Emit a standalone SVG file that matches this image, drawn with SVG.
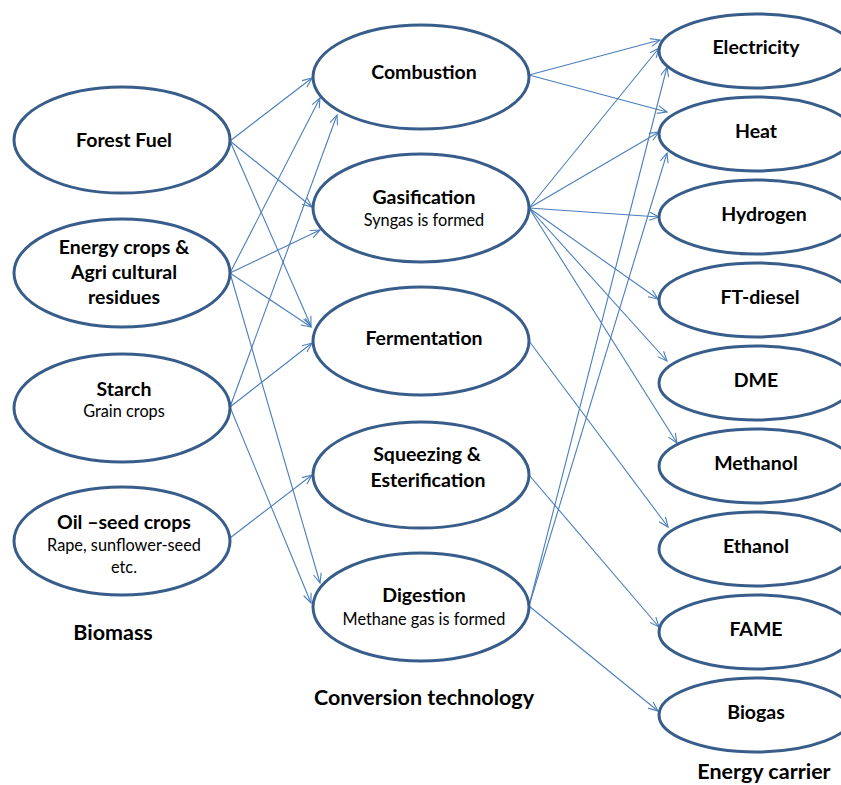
<svg xmlns="http://www.w3.org/2000/svg" width="841" height="785" viewBox="0 0 841 785">
<defs>
<style>
.n ellipse{fill:#fff;stroke:#385d8a;stroke-width:3}
.b{font-family:Lato,"Open Sans","Liberation Sans",sans-serif;font-weight:bold;font-size:19.5px;fill:#000;text-anchor:middle}
.r{font-family:Lato,"Open Sans","Liberation Sans",sans-serif;font-size:16.3px;fill:#000;text-anchor:middle}
.t{font-family:Lato,"Open Sans","Liberation Sans",sans-serif;font-weight:bold;font-size:21.5px;fill:#000;text-anchor:middle}
#edges line{stroke:#4a7ebb;stroke-width:1.1;fill:none;marker-end:url(#ah)}
</style>
<marker id="ah" markerUnits="userSpaceOnUse" markerWidth="12" markerHeight="12" refX="10" refY="4.5" orient="auto" viewBox="0 0 12 9">
<path d="M0.5,0.5 L10,4.5 L0.5,8.5" fill="none" stroke="#4a7ebb" stroke-width="1.1"/>
</marker>
</defs>
<rect width="841" height="785" fill="#fff"/>
<g id="edges">
<line x1="230" y1="141" x2="312" y2="78"/>
<line x1="230" y1="141" x2="312" y2="207"/>
<line x1="230" y1="141" x2="311" y2="326"/>
<line x1="230" y1="273" x2="320" y2="98"/>
<line x1="230" y1="273" x2="320" y2="230"/>
<line x1="230" y1="273" x2="311" y2="327"/>
<line x1="230" y1="273" x2="320" y2="583"/>
<line x1="230" y1="407" x2="337" y2="115"/>
<line x1="230" y1="407" x2="312" y2="343"/>
<line x1="230" y1="407" x2="311" y2="603"/>
<line x1="230" y1="538" x2="312" y2="475"/>
<line x1="529" y1="75" x2="660" y2="40"/>
<line x1="529" y1="75" x2="667" y2="112"/>
<line x1="529" y1="208" x2="659" y2="48"/>
<line x1="529" y1="208" x2="659" y2="132"/>
<line x1="529" y1="208" x2="659" y2="217"/>
<line x1="529" y1="208" x2="658" y2="299"/>
<line x1="529" y1="208" x2="667" y2="361"/>
<line x1="529" y1="208" x2="677" y2="443"/>
<line x1="529" y1="341" x2="668" y2="527"/>
<line x1="529" y1="475" x2="659" y2="627"/>
<line x1="529" y1="606" x2="667" y2="67"/>
<line x1="529" y1="606" x2="667" y2="153"/>
<line x1="529" y1="606" x2="658" y2="711"/>
</g>
<g id="forest-fuel" class="n"><ellipse cx="122" cy="140" rx="108" ry="53"/><text class="b" x="124" y="147">Forest Fuel</text></g>
<g id="energy-crops" class="n"><ellipse cx="122" cy="273" rx="108" ry="54"/><text class="b" x="124" y="254">Energy crops &amp;</text><text class="b" x="124" y="279">Agri cultural</text><text class="b" x="124" y="304">residues</text></g>
<g id="starch" class="n"><ellipse cx="122" cy="408" rx="108" ry="54"/><text class="b" x="124" y="396">Starch</text><text class="r" x="124" y="417">Grain crops</text></g>
<g id="oil-seed" class="n"><ellipse cx="122" cy="541" rx="108" ry="54"/><text class="b" x="124" y="529">Oil –seed crops</text><text class="r" x="124" y="551">Rape, sunflower-seed</text><text class="r" x="124" y="573">etc.</text></g>
<g id="combustion" class="n"><ellipse cx="421" cy="77" rx="108" ry="52"/><text class="b" x="424" y="79">Combustion</text></g>
<g id="gasification" class="n"><ellipse cx="421" cy="208" rx="108" ry="54"/><text class="b" x="424" y="204">Gasification</text><text class="r" x="424" y="226">Syngas is formed</text></g>
<g id="fermentation" class="n"><ellipse cx="421" cy="341" rx="108" ry="54"/><text class="b" x="424" y="345">Fermentation</text></g>
<g id="squeezing" class="n"><ellipse cx="421" cy="475" rx="108" ry="53"/><text class="b" x="427" y="461">Squeezing &amp;</text><text class="b" x="428" y="487">Esterification</text></g>
<g id="digestion" class="n"><ellipse cx="421" cy="607" rx="108" ry="54"/><text class="b" x="424" y="602">Digestion</text><text class="r" x="424" y="625">Methane gas is formed</text></g>
<g id="electricity" class="n"><ellipse cx="756" cy="51" rx="97" ry="37"/><text class="b" x="756" y="54">Electricity</text></g>
<g id="heat" class="n"><ellipse cx="756" cy="134" rx="97" ry="37"/><text class="b" x="756" y="138">Heat</text></g>
<g id="hydrogen" class="n"><ellipse cx="756" cy="217" rx="97" ry="37"/><text class="b" x="764" y="221">Hydrogen</text></g>
<g id="ft-diesel" class="n"><ellipse cx="756" cy="300" rx="97" ry="37"/><text class="b" x="760" y="304">FT-diesel</text></g>
<g id="dme" class="n"><ellipse cx="756" cy="383" rx="97" ry="37"/><text class="b" x="756" y="387">DME</text></g>
<g id="methanol" class="n"><ellipse cx="756" cy="466" rx="97" ry="37"/><text class="b" x="756" y="470">Methanol</text></g>
<g id="ethanol" class="n"><ellipse cx="756" cy="549" rx="97" ry="37"/><text class="b" x="756" y="553">Ethanol</text></g>
<g id="fame" class="n"><ellipse cx="756" cy="632" rx="97" ry="37"/><text class="b" x="756" y="636">FAME</text></g>
<g id="biogas" class="n"><ellipse cx="756" cy="715" rx="97" ry="37"/><text class="b" x="756" y="719">Biogas</text></g>
<text class="t" x="113" y="640">Biomass</text>
<text class="t" x="424" y="705">Conversion technology</text>
<text class="t" x="764" y="779">Energy carrier</text>
</svg>
